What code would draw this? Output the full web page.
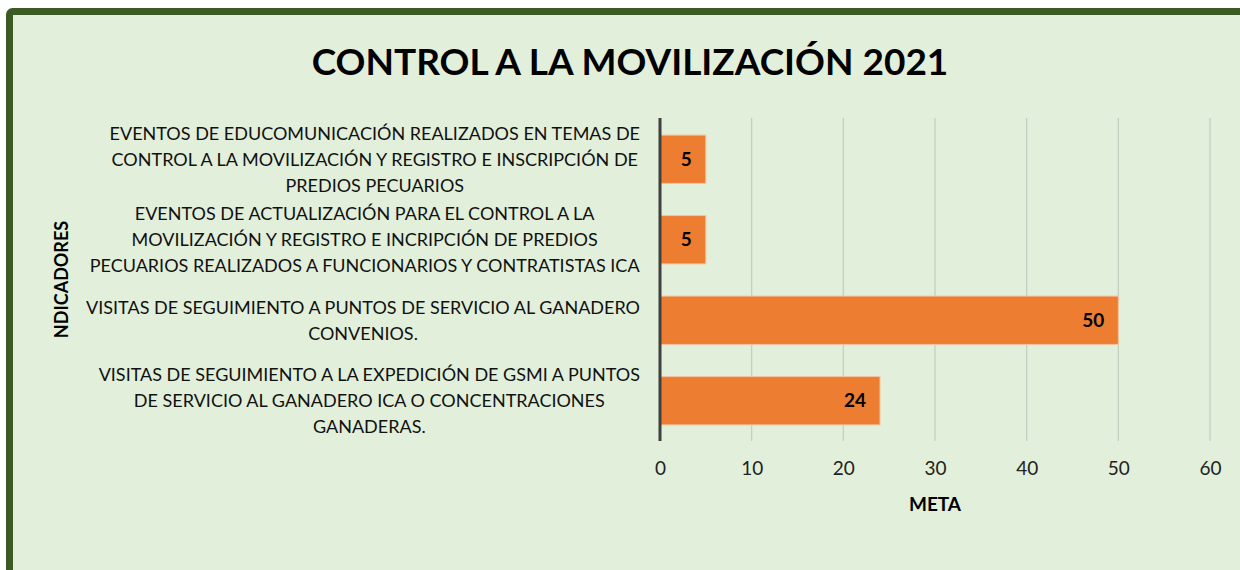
<!DOCTYPE html>
<html>
<head>
<meta charset="utf-8">
<script src="https://cdn.jsdelivr.net/npm/d3@7"></script>
<style>
  body { margin: 0; background: #fff; }
  svg { display: block; font-family: Lato, "Liberation Sans", sans-serif; }
</style>
</head>
<body>
<div class="canvas"></div>
<script>
const width = 1240;
const height = 570;

// Data
const categories = [
  ["EVENTOS DE EDUCOMUNICACIÓN REALIZADOS EN TEMAS DE", "CONTROL A LA MOVILIZACIÓN Y REGISTRO E INSCRIPCIÓN DE", "PREDIOS PECUARIOS"],
  ["EVENTOS DE ACTUALIZACIÓN PARA EL CONTROL A LA", "MOVILIZACIÓN Y REGISTRO E INCRIPCIÓN DE PREDIOS", "PECUARIOS REALIZADOS A FUNCIONARIOS Y CONTRATISTAS ICA"],
  ["VISITAS DE SEGUIMIENTO A PUNTOS DE SERVICIO AL GANADERO", "CONVENIOS."],
  ["VISITAS DE SEGUIMIENTO A LA EXPEDICIÓN DE GSMI A PUNTOS", "DE SERVICIO AL GANADERO ICA O CONCENTRACIONES", "GANADERAS."]
];
const values = [5, 5, 50, 24];
const xTicks = [0, 10, 20, 30, 40, 50, 60];

const plot = { left: 660, right: 1210, top: 118, bottom: 441 };

const svg = d3
  .select(".canvas")
  .append("svg")
  .attr("width", width)
  .attr("height", height);

// Frame
svg
  .append("rect")
  .attr("x", 9.5)
  .attr("y", 11.5)
  .attr("width", 1300)
  .attr("height", 700)
  .attr("rx", 3)
  .attr("fill", "#e2efda")
  .attr("stroke", "#3c5a24")
  .attr("stroke-width", 7);

// Title
svg
  .append("text")
  .attr("x", 630)
  .attr("y", 75)
  .attr("text-anchor", "middle")
  .attr("font-size", 37)
  .attr("font-weight", "bold")
  .attr("fill", "#000")
  .text("CONTROL A LA MOVILIZACIÓN 2021");

// Scales
const xScale = d3
  .scaleLinear()
  .domain([0, 60])
  .range([plot.left, plot.right]);

const yScale = d3
  .scaleBand()
  .domain(d3.range(values.length))
  .range([plot.top + 1, plot.bottom])
  .paddingInner(0.4)
  .paddingOuter(0.2);

// Gridlines
svg
  .append("g")
  .selectAll("line")
  .data(xTicks.slice(1))
  .enter()
  .append("line")
  .attr("x1", d => xScale(d))
  .attr("x2", d => xScale(d))
  .attr("y1", plot.top)
  .attr("y2", plot.bottom)
  .attr("stroke", "#c3cdbf")
  .attr("stroke-width", 1.2);

// Bars
svg
  .append("g")
  .selectAll("rect")
  .data(values)
  .enter()
  .append("rect")
  .attr("x", xScale(0))
  .attr("y", (d, i) => yScale(i))
  .attr("width", d => xScale(d) - xScale(0))
  .attr("height", yScale.bandwidth())
  .attr("fill", "#ed7d31")
  .attr("stroke", "#f6c3a0")
  .attr("stroke-width", 1);

// Value labels
svg
  .append("g")
  .selectAll("text")
  .data(values)
  .enter()
  .append("text")
  .attr("x", d => xScale(d) - 14)
  .attr("y", (d, i) => yScale(i) + yScale.bandwidth() / 2)
  .attr("dy", "0.35em")
  .attr("text-anchor", "end")
  .attr("font-size", 19)
  .attr("font-weight", "bold")
  .attr("fill", "#000")
  .text(d => d);

// Y axis line
svg
  .append("line")
  .attr("x1", xScale(0))
  .attr("x2", xScale(0))
  .attr("y1", plot.top)
  .attr("y2", plot.bottom)
  .attr("stroke", "#404040")
  .attr("stroke-width", 3);

// X tick labels
const xAxis = d3
  .axisBottom(xScale)
  .tickValues(xTicks)
  .tickSize(0)
  .tickPadding(21);

const gx = svg
  .append("g")
  .attr("transform", `translate(0,${plot.bottom})`)
  .call(xAxis);
gx.select(".domain").remove();
gx.selectAll("text")
  .attr("font-family", "Lato, sans-serif")
  .attr("font-size", 19)
  .attr("fill", "#222");

// Category labels (each block centered, right edge at 640)
const labelRight = 640;
const lineH = 26;
categories.forEach((lines, i) => {
  const cy = yScale(i) + yScale.bandwidth() / 2;
  const t = svg
    .append("text")
    .attr("text-anchor", "middle")
    .attr("font-size", 18)
    .attr("fill", "#111");
  lines.forEach((line, j) => {
    t.append("tspan")
      .attr("x", 0)
      .attr("y", cy + (j - (lines.length - 1) / 2) * lineH)
      .attr("dy", "0.35em")
      .text(line);
  });
  const w = t.node().getBBox().width;
  t.selectAll("tspan").attr("x", labelRight - w / 2);
});

// Axis titles
svg
  .append("text")
  .attr("x", xScale(30))
  .attr("y", 511)
  .attr("text-anchor", "middle")
  .attr("font-size", 19)
  .attr("font-weight", "bold")
  .text("META");

svg
  .append("text")
  .attr("transform", `translate(68,${(plot.top + plot.bottom) / 2}) rotate(-90)`)
  .attr("text-anchor", "middle")
  .attr("font-size", 18)
  .attr("font-weight", "bold")
  .text("NDICADORES");
</script>
</body>
</html>
